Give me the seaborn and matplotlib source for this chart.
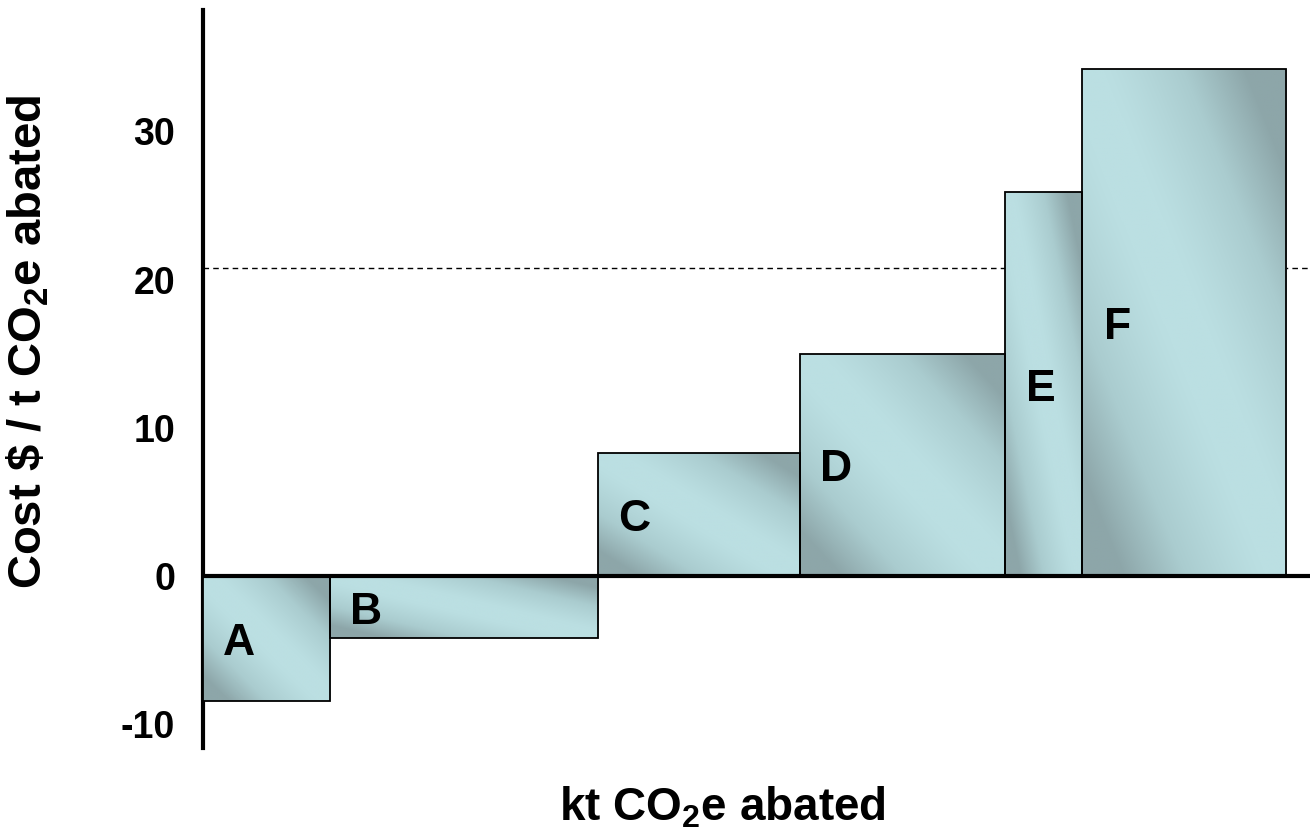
import numpy as np
import matplotlib
matplotlib.use('Agg')
import matplotlib.pyplot as plt
import seaborn as sns
from matplotlib.colors import LinearSegmentedColormap

# abatement options: width = kt CO2e abated, height = cost $/t
options = ['A', 'B', 'C', 'D', 'E', 'F']
abated = [12.7, 26.8, 20.2, 20.5, 7.7, 20.4]
cost = [-8.4, -4.2, 8.3, 15.0, 25.9, 34.2]
carbon_price = 20.8
yticks = [-10, 0, 10, 20, 30]

sns.set_style('white')
plt.rcParams['font.family'] = ['Liberation Sans', 'DejaVu Sans']
plt.rcParams['font.weight'] = 'bold'
plt.rcParams['mathtext.default'] = 'regular'
plt.rcParams['text.color'] = 'black'
plt.rcParams['axes.labelcolor'] = 'black'
plt.rcParams['ytick.color'] = 'black'

cmap = LinearSegmentedColormap.from_list('shade', ['#BBDFE2', '#AACCCF', '#8DA6A9'])

fig = plt.figure(figsize=(13.14, 8.30), dpi=100)
ax = fig.add_axes([0.1545, 0.0988, 0.8425, 0.8892])

lefts = np.concatenate([[0], np.cumsum(abated)[:-1]])
bars = ax.bar(lefts, cost, width=abated, align='edge', color='#BBDFE2',
              edgecolor='none', zorder=2)

# diagonal shading inside each block
u, v = np.meshgrid(np.linspace(0, 1, 200), np.linspace(0, 1, 200))
t = np.abs(u + v - 1)
shade = np.clip((t - 0.1) / 0.7, 0, 1) ** 1.2
for b, x0, w, h in zip(bars, lefts, abated, cost):
    y0, y1 = (0, h) if h > 0 else (h, 0)
    im = ax.imshow(shade, extent=[x0, x0 + w, y0, y1], origin='lower',
                   cmap=cmap, vmin=0, vmax=1, aspect='auto', zorder=3,
                   interpolation='bilinear')
    im.set_clip_path(b)

ax.bar(lefts, cost, width=abated, align='edge', facecolor='none',
       edgecolor='black', linewidth=1.3, zorder=4)

for name, x0, h in zip(options, lefts, cost):
    ax.annotate(name, (x0 + 3.6, h * 0.5), xytext=(0, -3.5), textcoords='offset points',
                ha='center', va='center', fontsize=32, fontweight='bold', zorder=5)

ax.axhline(carbon_price, color='black', linestyle=(0, (4, 3)), linewidth=1, zorder=1)
ax.axhline(0, color='black', linewidth=3, zorder=6)

ax.set_xlim(0, 110.7)
ax.set_ylim(-11.6, 38.2)
ax.set_xticks([])
ax.set_yticks(yticks)
ax.set_yticklabels([str(y) for y in yticks], fontsize=27, fontweight='bold')
ax.tick_params(axis='y', length=0, pad=20)

for s in ['top', 'right', 'bottom']:
    ax.spines[s].set_visible(False)
ax.spines['left'].set_linewidth(3)
ax.spines['left'].set_color('black')

ax.set_ylabel(r'Cost \$ / t CO$_2$e abated', fontsize=34, fontweight='bold')
ax.yaxis.set_label_coords(-0.137, 0.55)
ax.set_xlabel('kt CO$_2$e abated', fontsize=33, fontweight='bold')
ax.xaxis.set_label_coords(0.469, -0.05)

plt.savefig('out.png', dpi=100)
